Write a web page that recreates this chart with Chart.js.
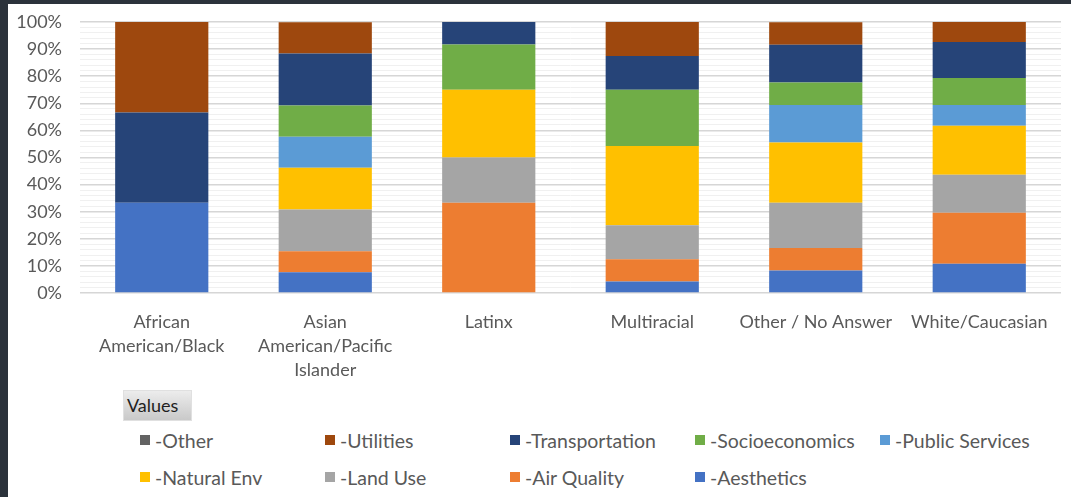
<!DOCTYPE html>
<html>
<head>
<meta charset="utf-8">
<script src="https://cdn.jsdelivr.net/npm/chart.js@4"></script>
<style>
  body { margin: 0; background: #2b323b; }
  #panel { position: absolute; left: 8px; top: 4px; width: 1063px; height: 493px; background: #fff; }
  #chartBox { position: absolute; left: 0; top: 0; width: 1063px; height: 390px; }
  #valuesBtn { position: absolute; left: 115px; top: 386px; width: 69px; height: 31px;
    background: linear-gradient(#ececec, #c9c9c9); border: 1px solid #e0e0e0; box-sizing: border-box;
    font: 18px Lato, sans-serif; color: #1f1f1f; line-height: 29px; padding-left: 3px; }
  #legend { position: absolute; left: 132px; top: 423px; width: 940px; font: 19.5px Lato, sans-serif; color: #595959;
    display: grid; grid-template-columns: repeat(5, 185px); row-gap: 11px; }
  .item { display: flex; align-items: center; height: 26px; white-space: nowrap; }
  .sw { width: 10px; height: 10px; margin-right: 5px; }
</style>
</head>
<body>
<div id="panel">
  <div id="chartBox"><canvas id="groupChart"></canvas></div>
  <div id="valuesBtn">Values</div>
  <div id="legend"></div>
</div>
<script>
// grupos (eixo x)
const categories = [
  ['African', 'American/Black'],
  ['Asian', 'American/Pacific', 'Islander'],
  'Latinx',
  'Multiracial',
  'Other / No Answer',
  'White/Caucasian'
];

// porcentagens por tema, de baixo para cima
const aesthetics     = [33.3, 7.7, 0, 4.2, 8.3, 10.8];
const airQuality     = [0, 7.7, 33.3, 8.3, 8.3, 18.8];
const landUse        = [0, 15.4, 16.7, 12.5, 16.7, 14.0];
const naturalEnv     = [0, 15.4, 25.0, 29.2, 22.2, 18.1];
const publicServices = [0, 11.5, 0, 0, 13.9, 7.7];
const socioeconomics = [0, 11.5, 16.7, 20.8, 8.3, 9.9];
const transportation = [33.3, 19.2, 8.3, 12.5, 13.9, 13.3];
const utilities      = [33.4, 11.5, 0, 12.5, 8.3, 7.4];
const other          = [0, 0, 0, 0, 0, 0];

const yTicks = [0, 10, 20, 30, 40, 50, 60, 70, 80, 90, 100];

Chart.defaults.font.family = 'Lato';
Chart.defaults.color = '#595959';

const series = [
  ['-Aesthetics', aesthetics, '#4472C4'],
  ['-Air Quality', airQuality, '#ED7D31'],
  ['-Land Use', landUse, '#A5A5A5'],
  ['-Natural Env', naturalEnv, '#FFC000'],
  ['-Public Services', publicServices, '#5B9BD5'],
  ['-Socioeconomics', socioeconomics, '#70AD47'],
  ['-Transportation', transportation, '#264478'],
  ['-Utilities', utilities, '#9E480E'],
  ['-Other', other, '#636363']
];

const groupData = {
  labels: categories,
  datasets: series.map(s => ({
    label: s[0],
    data: s[1],
    backgroundColor: s[2],
    borderWidth: 0,
    categoryPercentage: 1,
    barPercentage: 0.57
  }))
};

const groupConfig = {
  type: 'bar',
  data: groupData,
  options: {
    responsive: true,
    maintainAspectRatio: false,
    animation: false,
    layout: { padding: { top: 18, right: 10 } },
    plugins: { legend: { display: false }, tooltip: { enabled: false } },
    scales: {
      x: {
        stacked: true,
        grid: { display: false },
        border: { display: false },
        ticks: { font: { size: 18, lineHeight: 1.34 }, padding: 9, maxRotation: 0, autoSkip: false },
        afterFit: s => { s.height = 101; }
      },
      y: {
        stacked: true,
        min: 0,
        max: 100,
        border: { display: false },
        grid: {
          drawTicks: false,
          color: c => yTicks.includes(c.tick.value) ? '#d6d6d6' : '#f0f0f0',
          lineWidth: c => yTicks.includes(c.tick.value) ? 1.5 : 1
        },
        ticks: {
          stepSize: 2,
          autoSkip: false,
          padding: 18,
          font: { size: 18, lineHeight: 0.6 },
          callback: v => yTicks.includes(v) ? v + '%' : ''
        },
        afterFit: s => { s.width = 72; s.paddingTop = 0; s.paddingBottom = 0; }
      }
    }
  }
};

var groupChart = new Chart(document.getElementById('groupChart'), groupConfig);

// legenda em grade, ordem invertida como no Excel
const legendEl = document.getElementById('legend');
groupChart.data.datasets.slice().reverse().forEach(ds => {
  const it = document.createElement('div');
  it.className = 'item';
  it.innerHTML = '<span class="sw" style="background:' + ds.backgroundColor + '"></span>' + ds.label;
  legendEl.appendChild(it);
});
</script>
</body>
</html>
